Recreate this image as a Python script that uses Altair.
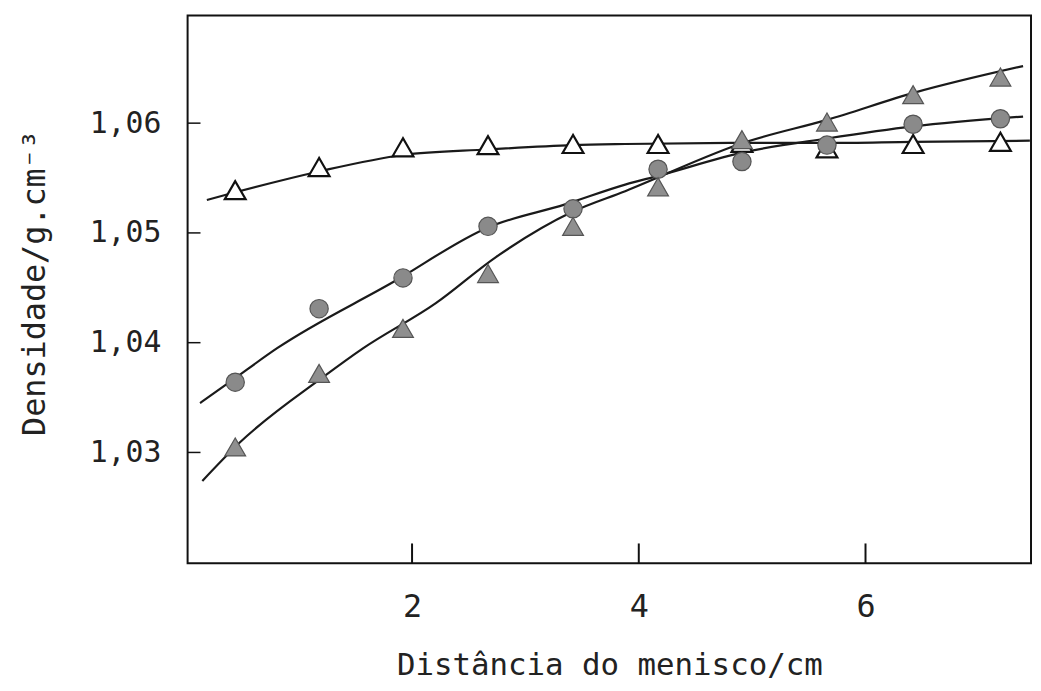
import altair as alt
import pandas as pd

# measured points (x in cm)
xs = [0.44, 1.18, 1.92, 2.67, 3.42, 4.17, 4.91, 5.66, 6.42, 7.19]
open_tri = [1.0539, 1.0560, 1.0578, 1.0580, 1.0581, 1.0581, 1.0582, 1.0577, 1.0581, 1.0583]
circles = [1.0364, 1.0431, 1.0459, 1.0506, 1.0522, 1.0558, 1.0565, 1.0580, 1.0599, 1.0604]
filled_tri = [1.0305, 1.0372, 1.0413, 1.0463, 1.0506, 1.0542, 1.0585, 1.0601, 1.0626, 1.0642]

# hand-drawn curves
curveA_x = [0.19, 0.44, 1.18, 1.92, 2.67, 3.42, 3.88, 4.91, 5.66, 6.42, 7.45]
curveA_y = [1.0530, 1.0537, 1.0556, 1.0571, 1.0576, 1.0580, 1.0581, 1.0582, 1.0582, 1.0583, 1.0584]
curveB_x = [0.13, 0.39, 0.81, 1.83, 2.67, 3.35, 3.88, 4.17, 4.95, 5.66, 6.42, 7.39]
curveB_y = [1.0345, 1.0364, 1.0395, 1.0455, 1.0505, 1.0526, 1.0544, 1.0552, 1.0574, 1.0586, 1.0597, 1.0606]
curveC_x = [0.15, 0.48, 1.22, 1.57, 2.21, 2.74, 3.41, 3.88, 4.95, 5.66, 6.44, 7.39]
curveC_y = [1.0274, 1.0309, 1.0369, 1.0395, 1.0436, 1.0478, 1.0519, 1.0538, 1.0583, 1.0603, 1.0628, 1.0652]

x_ticks = [2, 4, 6]
y_ticks = [1.03, 1.04, 1.05, 1.06]

FONT = "DejaVu Sans Mono"
TXT = "#222"
W, H = 850, 552

xs_scale = alt.Scale(domain=[0.02, 7.46], nice=False, zero=False)
ys_scale = alt.Scale(domain=[1.0199, 1.0698], nice=False, zero=False)

x_axis = alt.Axis(
    values=x_ticks, ticks=False, domain=False, grid=False,
    labelFont=FONT, labelFontSize=32, labelColor=TXT, labelPadding=29,
    title="Distância do menisco/cm", titleFont=FONT, titleFontSize=31,
    titleFontWeight="normal", titleColor=TXT, titleY=88, titleBaseline="top")
y_axis = alt.Axis(
    values=y_ticks, ticks=False, domain=False, grid=False,
    labelExpr="replace(format(datum.value, '.2f'), '.', ',')",
    labelFont=FONT, labelFontSize=30, labelColor=TXT, labelPadding=27,
    title="Densidade/g.cm⁻³", titleFont=FONT, titleFontSize=32,
    titleFontWeight="normal", titleColor=TXT, titleX=-144, titleY=269,
    titleBaseline="alphabetic")

X = alt.X("x:Q", scale=xs_scale, axis=x_axis)
Y = alt.Y("y:Q", scale=ys_scale, axis=y_axis)

curves = pd.concat([
    pd.DataFrame({"x": curveA_x, "y": curveA_y, "c": "A"}),
    pd.DataFrame({"x": curveB_x, "y": curveB_y, "c": "B"}),
    pd.DataFrame({"x": curveC_x, "y": curveC_y, "c": "C"}),
])
df_open = pd.DataFrame({"x": xs, "y": open_tri})
df_circ = pd.DataFrame({"x": xs, "y": circles})
df_fill = pd.DataFrame({"x": xs, "y": filled_tri})

lines = alt.Chart(curves).mark_line(
    interpolate="monotone", color="#1a1a1a", strokeWidth=2.2
).encode(x=X, y=Y, detail="c:N")

open_pts = alt.Chart(df_open).mark_point(
    shape="triangle-up", size=440, filled=True, fill="white",
    stroke="#111", strokeWidth=2.2, opacity=1
).encode(x=X, y=Y)

circ_pts = alt.Chart(df_circ).mark_point(
    shape="circle", size=340, filled=True, fill="#8a8a8a",
    stroke="#555", strokeWidth=1.2, opacity=1
).encode(x=X, y=Y)

fill_pts = alt.Chart(df_fill).mark_point(
    shape="triangle-up", size=440, filled=True, fill="#8f8f8f",
    stroke="#555", strokeWidth=1.2, opacity=1
).encode(x=X, y=Y)

xtick_rules = alt.Chart(pd.DataFrame({"x": x_ticks})).mark_rule(
    color="#111", strokeWidth=2
).encode(x=X, y=alt.value(H - 20), y2=alt.value(H))

ytick_rules = alt.Chart(pd.DataFrame({"y": y_ticks})).mark_rule(
    color="#111", strokeWidth=1.5
).encode(y=Y, x=alt.value(0), x2=alt.value(13))

chart = alt.layer(lines, xtick_rules, ytick_rules, open_pts, circ_pts, fill_pts).properties(
    width=W, height=H,
    autosize=alt.AutoSizeParams(type="none"),
    padding={"left": 181, "top": 5, "right": 2, "bottom": 120},
    background="white",
).configure_view(stroke="#111", strokeWidth=2)

chart.save("out.html", embed_options={"renderer": "svg", "actions": False})
